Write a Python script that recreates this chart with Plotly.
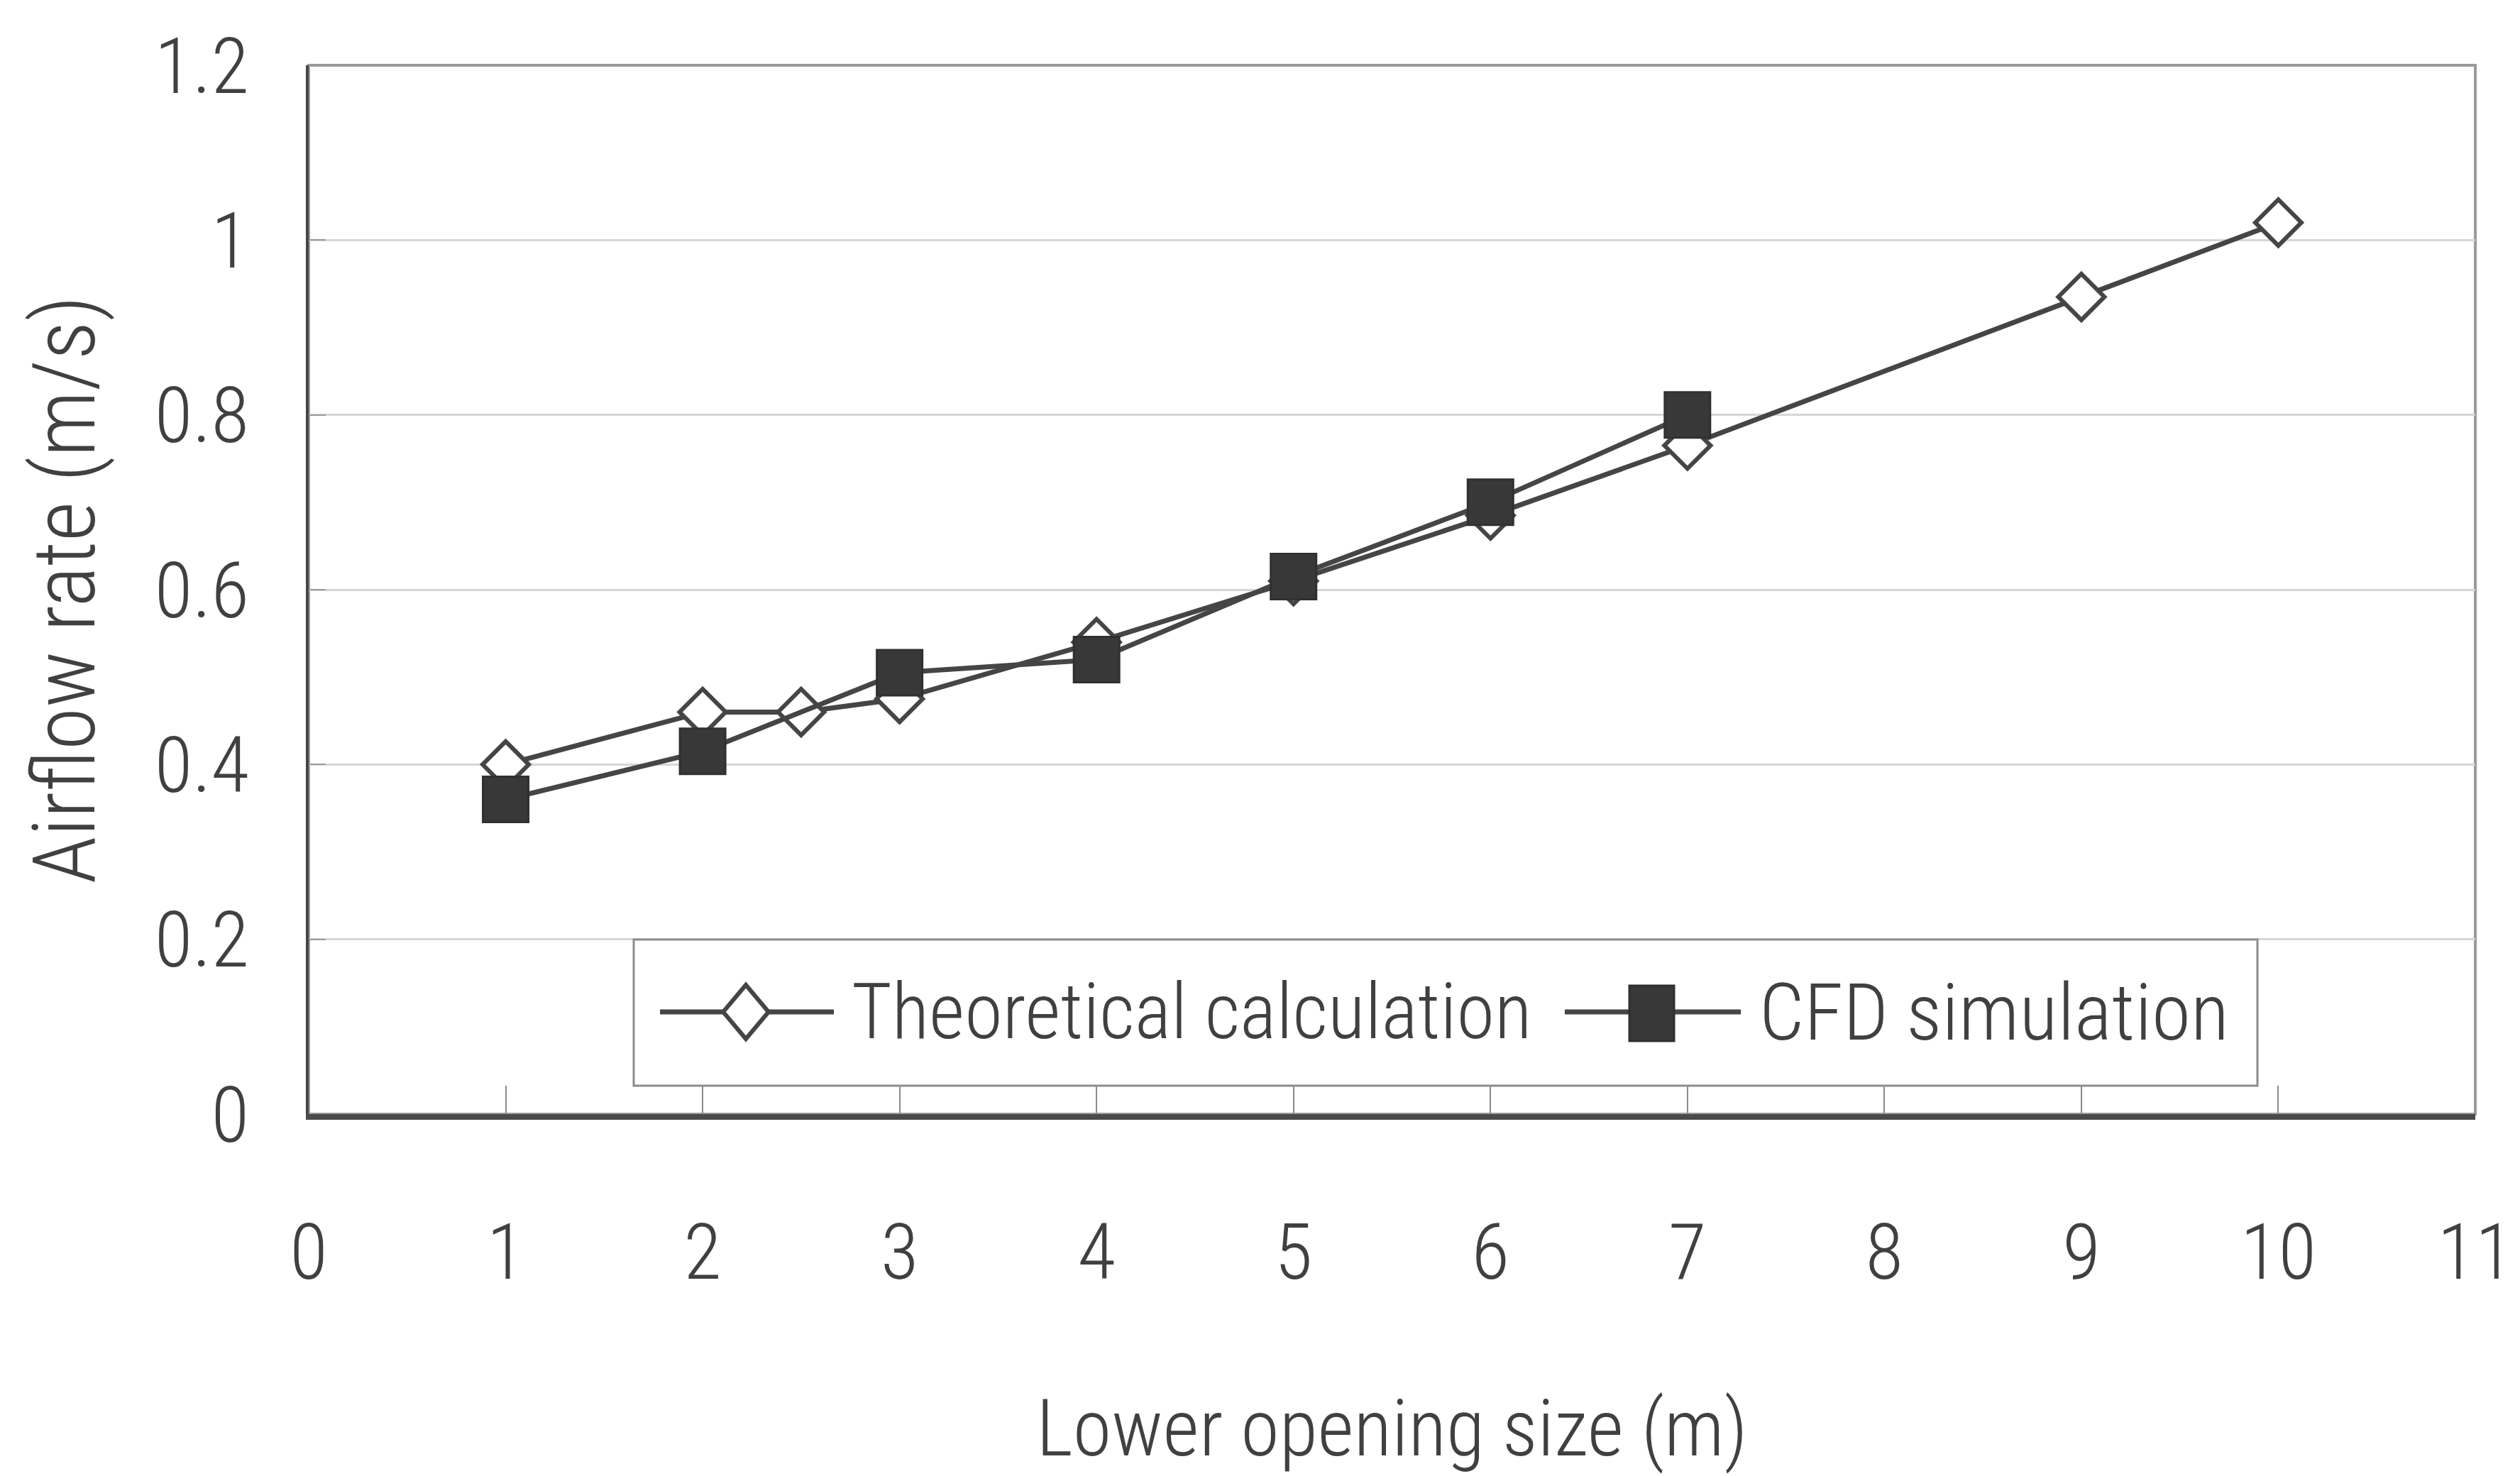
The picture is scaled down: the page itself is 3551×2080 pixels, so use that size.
import plotly.graph_objects as go

# Airflow rate versus lower opening size
theory_x = [1, 2, 2.5, 3, 4, 5, 6, 7, 9, 10]
theory_y = [0.40, 0.46, 0.46, 0.475, 0.54, 0.61, 0.685, 0.765, 0.935, 1.02]

cfd_x = [1, 2, 3, 4, 5, 6, 7]
cfd_y = [0.36, 0.415, 0.505, 0.52, 0.615, 0.70, 0.80]

series_names = ["Theoretical calculation", "CFD simulation"]
x_title = "Lower opening size (m)"
y_title = "Airflow rate (m/s)"

W, H = 3551, 2080
L, R, T, B = 435, 63, 92, 510
PLOT_W = W - L - R
PLOT_H = H - T - B

NARROW = "Liberation Sans Narrow, Roboto Condensed, Liberation Sans, Arial, sans-serif"
INK = "#404040"
LINE = "#454545"
LIGHT = 300


def px(x):
    return (x - L) / PLOT_W


def py(y):
    return (H - B - y) / PLOT_H


fig = go.Figure()

fig.add_trace(go.Scatter(
    x=theory_x, y=theory_y, name=series_names[0], mode="lines+markers",
    line=dict(color=LINE, width=7),
    marker=dict(symbol="diamond", size=50, color="white",
                line=dict(color=LINE, width=6)),
    showlegend=False,
))
fig.add_trace(go.Scatter(
    x=cfd_x, y=cfd_y, name=series_names[1], mode="lines+markers",
    line=dict(color=LINE, width=7),
    marker=dict(symbol="square", size=64, color="#383838",
                line=dict(color="#303030", width=3)),
    showlegend=False,
))

shapes = [
    # plot frame (top / right edges in light gray)
    dict(type="rect", xref="x domain", yref="y domain", x0=0, x1=1, y0=0, y1=1,
         line=dict(color="#9a9a9a", width=4), layer="below"),
]

# legend box with its line/marker samples
lg_box = dict(x0=893, x1=3181, y0=1324, y1=1530)
lg_y = 1426
shapes.append(dict(type="rect", xref="paper", yref="paper",
                   x0=px(lg_box["x0"]), x1=px(lg_box["x1"]),
                   y0=py(lg_box["y1"]), y1=py(lg_box["y0"]),
                   line=dict(color="#8c8c8c", width=3), fillcolor="white",
                   layer="above"))
# theoretical sample
shapes.append(dict(type="line", xref="paper", yref="paper",
                   x0=px(930), x1=px(1175), y0=py(lg_y), y1=py(lg_y),
                   line=dict(color=LINE, width=7)))
cx, hw, hh = 1051, 32, 38
shapes.append(dict(type="path", xref="paper", yref="paper",
                   path=(f"M {px(cx)},{py(lg_y - hh)} L {px(cx + hw)},{py(lg_y)} "
                         f"L {px(cx)},{py(lg_y + hh)} L {px(cx - hw)},{py(lg_y)} Z"),
                   fillcolor="white", line=dict(color=LINE, width=6)))
# CFD sample
shapes.append(dict(type="line", xref="paper", yref="paper",
                   x0=px(2205), x1=px(2453), y0=py(lg_y), y1=py(lg_y),
                   line=dict(color=LINE, width=7)))
shapes.append(dict(type="rect", xref="paper", yref="paper",
                   x0=px(2296), x1=px(2359), y0=py(1467), y1=py(1389),
                   fillcolor="#383838", line=dict(color="#303030", width=3)))

annotations = [
    dict(text=series_names[0], xref="paper", yref="paper", x=px(1198), y=py(lg_y),
         xanchor="left", yanchor="middle", showarrow=False,
         font=dict(family=NARROW, size=109, color=INK, weight=LIGHT)),
    dict(text=series_names[1], xref="paper", yref="paper", x=px(2477), y=py(lg_y),
         xanchor="left", yanchor="middle", showarrow=False,
         font=dict(family=NARROW, size=112, color=INK, weight=LIGHT)),
]

fig.update_layout(
    width=W, height=H,
    margin=dict(l=L, r=R, t=T, b=B, autoexpand=False),
    paper_bgcolor="white", plot_bgcolor="white",
    showlegend=False,
    shapes=shapes,
    annotations=annotations,
    font=dict(family=NARROW, color=INK),
)

fig.update_xaxes(
    range=[0, 11], dtick=1, tick0=0,
    showgrid=False, zeroline=False,
    showline=True, linecolor="#4a4a4a", linewidth=8,
    ticks="inside", ticklen=40, tickwidth=2, tickcolor="#8a8a8a",
    ticklabelstandoff=92,
    tickfont=dict(family=NARROW, size=110, color=INK, weight=LIGHT),
    title=dict(text=x_title, standoff=148,
               font=dict(family=NARROW, size=111, color=INK, weight=LIGHT)),
    automargin=False,
)
fig.update_yaxes(
    range=[0, 1.2], dtick=0.2, tick0=0,
    showgrid=True, gridcolor="#d6d6d6", gridwidth=3,
    zeroline=False,
    showline=True, linecolor="#454545", linewidth=4,
    ticks="inside", ticklen=24, tickwidth=2, tickcolor="#9a9a9a",
    ticklabelstandoff=58,
    tickfont=dict(family=NARROW, size=110, color=INK, weight=LIGHT),
    title=dict(text=y_title, standoff=44,
               font=dict(family=NARROW, size=122, color=INK, weight=LIGHT)),
    automargin=False,
)

fig.write_html("out.html")
